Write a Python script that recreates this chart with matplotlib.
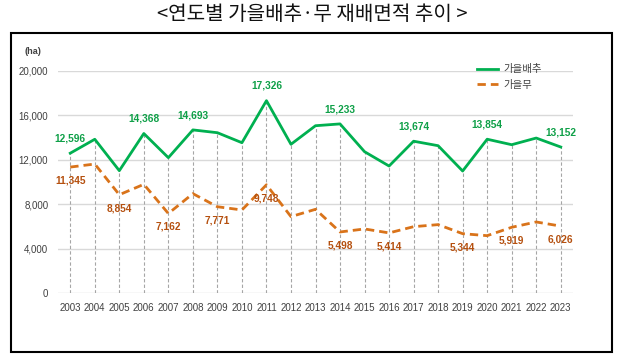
import matplotlib.pyplot as plt
from matplotlib.patches import Rectangle

plt.rcParams["font.family"] = ["Noto Sans CJK KR", "DejaVu Sans"]

years = list(range(2003, 2024))
cabbage = [12596, 13850, 11020, 14368, 12190, 14693, 14440, 13540, 17326, 13400,
           15070, 15233, 12730, 11440, 13674, 13270, 10990, 13854, 13360, 13960, 13152]
radish = [11345, 11620, 8854, 9790, 7162, 8950, 7771, 7480, 9748, 6880,
          7540, 5498, 5770, 5414, 5975, 6160, 5344, 5165, 5919, 6400, 6026]
cabbage_labeled = [2003, 2006, 2008, 2011, 2014, 2017, 2020, 2023]
radish_labeled = [2003, 2005, 2007, 2009, 2011, 2014, 2016, 2019, 2021, 2023]
yticks = [0, 4000, 8000, 12000, 16000, 20000]

green = "#00B050"
orange = "#D9731A"
green_lbl = "#0FA048"
orange_lbl = "#B5500F"

W, H = 623, 364
fig = plt.figure(figsize=(W / 100, H / 100), dpi=100)
ax = fig.add_axes([58 / W, 1 - 293 / H, (573 - 58) / W, 222 / H])

# drop lines from top series to axis
ax.vlines(years, 0, cabbage, colors="#A6A6A6", linestyles=(0, (3, 2)), lw=0.8, zorder=1)

ax.plot(years, cabbage, color=green, lw=2.0, label="가을배추", zorder=3)
ax.plot(years, radish, color=orange, lw=2.0, linestyle=(0, (3, 1.8)), label="가을무", zorder=3)

num_font = ["Liberation Sans", "DejaVu Sans"]
for y, v in zip(years, cabbage):
    if y in cabbage_labeled:
        ax.annotate(f"{v:,}", (y, v), xytext=(0, 7), textcoords="offset points",
                    ha="center", va="bottom", fontsize=7.3, fontweight="bold",
                    color=green_lbl, family=num_font)
for y, v in zip(years, radish):
    if y in radish_labeled:
        ax.annotate(f"{v:,}", (y, v), xytext=(0, -6), textcoords="offset points",
                    ha="center", va="top", fontsize=7.3, fontweight="bold",
                    color=orange_lbl, family=num_font)

ax.set_xlim(2002.5, 2023.5)
ax.set_ylim(0, 20000)
ax.set_yticks(yticks)
ax.set_yticklabels([f"{t:,}" for t in yticks], family=num_font, fontsize=7, color="#404040")
ax.set_xticks(years)
ax.set_xticklabels([str(y) for y in years], family=num_font, fontsize=7, color="#404040")
ax.tick_params(length=0, pad=7)
ax.grid(axis="y", color="#D9D9D9", lw=1)
ax.set_axisbelow(True)
for s in ax.spines.values():
    s.set_visible(False)

ax.legend(loc="upper left", bbox_to_anchor=(468 / W, 1 - 55 / H), bbox_transform=fig.transFigure,
          frameon=False, fontsize=7.5, handlelength=2.0, handletextpad=0.5, labelspacing=0.5,
          labelcolor="#404040")

fig.text(33 / W, 1 - 52 / H, "(ha)", ha="center", va="center", fontsize=6.5,
         color="#404040", family=num_font, fontweight="bold")
fig.text(312 / W, 1 - 15 / H, "<연도별 가을배추·무 재배면적 추이 >", ha="center", va="center",
         fontsize=14.5, color="#111111")
fig.patches.append(Rectangle((11 / W, 1 - 352 / H), 601 / W, 319 / H, transform=fig.transFigure,
                             fill=False, edgecolor="black", lw=1.5))

fig.savefig("out.png", dpi=100)
